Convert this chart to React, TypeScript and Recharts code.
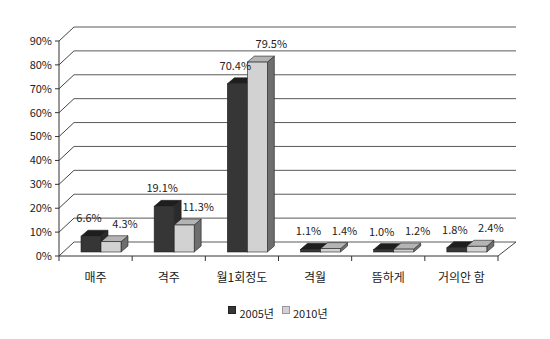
import React from 'react';
import { BarChart, Bar, XAxis, YAxis, CartesianGrid, Legend, LabelList } from 'recharts';

const categories = ['매주', '격주', '월1회정도', '격월', '뜸하게', '거의안 함'];
const series2005 = [6.6, 19.1, 70.4, 1.1, 1.0, 1.8];
const series2010 = [4.3, 11.3, 79.5, 1.4, 1.2, 2.4];
const yTicks = [0, 10, 20, 30, 40, 50, 60, 70, 80, 90];
const seriesNames = ['2005년', '2010년'];

const data = categories.map((c, i) => ({ name: c, a: series2005[i], b: series2010[i] }));

const FONT = '"Noto Sans CJK KR", "Noto Sans", sans-serif';
const W = 550;
const H = 339;
const LEFT = 59;
const RIGHT = 52;
const TOP = 41;
const XAXIS_H = 47;
const PLOT_W = W - LEFT - RIGHT;
const BAND = PLOT_W / categories.length;
const WALL_DX = 15;
const WALL_DY = 14;
const BAR_OX = 5;
const BAR_OY = -4;
const DEPTH_X = 7;
const DEPTH_Y = 6;

const makeBarShape = (front: string, top: string, side: string) => (props: any) => {
  const { x, y, width, height } = props;
  if (width == null || height == null) return null;
  const fx = x + BAR_OX;
  const fy = y + BAR_OY;
  const w = width;
  const h = Math.max(height, 0);
  const topPts = `${fx},${fy} ${fx + DEPTH_X},${fy - DEPTH_Y} ${fx + w + DEPTH_X},${fy - DEPTH_Y} ${fx + w},${fy}`;
  const sidePts = `${fx + w},${fy} ${fx + w + DEPTH_X},${fy - DEPTH_Y} ${fx + w + DEPTH_X},${fy + h - DEPTH_Y} ${fx + w},${fy + h}`;
  return (
    <g>
      <polygon points={sidePts} fill={side} stroke="#222" strokeWidth={0.6} />
      <polygon points={topPts} fill={top} stroke="#222" strokeWidth={0.6} />
      <rect x={fx} y={fy} width={w} height={h} fill={front} stroke="#222" strokeWidth={0.6} />
    </g>
  );
};

const darkShape = makeBarShape('#363636', '#1e1e1e', '#2a2a2a');
const lightShape = makeBarShape('#d2d2d2', '#b4b4b4', '#6e6e6e');

const makeLabel = (dx: number) => (props: any) => {
  const { x, y, width, value } = props;
  return (
    <text
      x={x + width / 2 + BAR_OX + dx}
      y={y + BAR_OY - 14}
      textAnchor="middle"
      fontFamily={FONT}
      fontSize={11}
      fill="#222"
    >
      {Number(value).toFixed(1)}%
    </text>
  );
};

const gridLine = (props: any) => {
  const { x1, y1, x2, index } = props;
  return (
    <g key={`g-${index}-${y1}`}>
      <line x1={x1} y1={y1} x2={x1 + WALL_DX} y2={y1 - WALL_DY} stroke="#444" strokeWidth={1} />
      <line x1={x1 + WALL_DX} y1={y1 - WALL_DY} x2={x2 + WALL_DX + 3} y2={y1 - WALL_DY} stroke="#5a5a5a" strokeWidth={1} />
      {index === 0 ? (
        <line x1={x2} y1={y1} x2={x2 + WALL_DX + 3} y2={y1 - WALL_DY} stroke="#444" strokeWidth={1} />
      ) : null}
    </g>
  );
};

const XTick = (props: any) => {
  const { x, y, payload, index } = props;
  const last = index === categories.length - 1;
  return (
    <g>
      <line x1={x - BAND / 2} y1={y} x2={x - BAND / 2} y2={y + 5} stroke="#333" />
      {last ? <line x1={x + BAND / 2} y1={y} x2={x + BAND / 2} y2={y + 5} stroke="#333" /> : null}
      <text x={x} y={y + 26} textAnchor="middle" fontFamily={FONT} fontSize={12} fill="#222">
        {payload.value}
      </text>
    </g>
  );
};

const LegendContent = () => (
  <div
    style={{
      height: 36,
      width: W,
      display: 'flex',
      justifyContent: 'center',
      alignItems: 'flex-start',
      paddingLeft: 6,
      boxSizing: 'border-box',
      fontFamily: FONT,
      fontSize: 11,
      color: '#222',
      lineHeight: '20px',
    }}
  >
    <span style={{ display: 'inline-flex', alignItems: 'center', marginRight: 8 }}>
      <span style={{ width: 6, height: 6, background: '#363636', border: '1px solid #222', marginRight: 3, marginTop: -6 }} />
      {seriesNames[0]}
    </span>
    <span style={{ display: 'inline-flex', alignItems: 'center' }}>
      <span style={{ width: 6, height: 6, background: '#d2d2d2', border: '1px solid #999', marginRight: 3, marginTop: -6 }} />
      {seriesNames[1]}
    </span>
  </div>
);

export default function App() {
  return (
    <div style={{ position: 'absolute', left: 0, top: 0, width: W, height: H, background: '#fff' }}>
      <BarChart
        width={W}
        height={H}
        data={data}
        margin={{ top: TOP, right: RIGHT, left: 0, bottom: 0 }}
        barGap={0}
        barSize={20}
      >
        <CartesianGrid horizontal={gridLine} vertical={false} />
        <XAxis
          dataKey="name"
          height={XAXIS_H}
          tickLine={false}
          tickSize={0}
          tickMargin={0}
          axisLine={{ stroke: '#333' }}
          tick={<XTick />}
          interval={0}
        />
        <YAxis
          width={LEFT}
          domain={[0, 90]}
          ticks={yTicks}
          tickFormatter={(v: number) => `${v}%`}
          tickSize={4}
          tickMargin={3}
          axisLine={{ stroke: '#333' }}
          tickLine={{ stroke: '#333' }}
          tick={{ fontFamily: FONT, fontSize: 11, fill: '#222' }}
          interval={0}
        />
        <Legend verticalAlign="bottom" wrapperStyle={{ left: 0, width: W }} content={<LegendContent />} />
        <Bar dataKey="a" name={seriesNames[0]} fill="#363636" shape={darkShape} isAnimationActive={false}>
          <LabelList dataKey="a" content={makeLabel(-2)} />
        </Bar>
        <Bar dataKey="b" name={seriesNames[1]} fill="#d2d2d2" shape={lightShape} isAnimationActive={false}>
          <LabelList dataKey="b" content={makeLabel(14)} />
        </Bar>
      </BarChart>
    </div>
  );
}
